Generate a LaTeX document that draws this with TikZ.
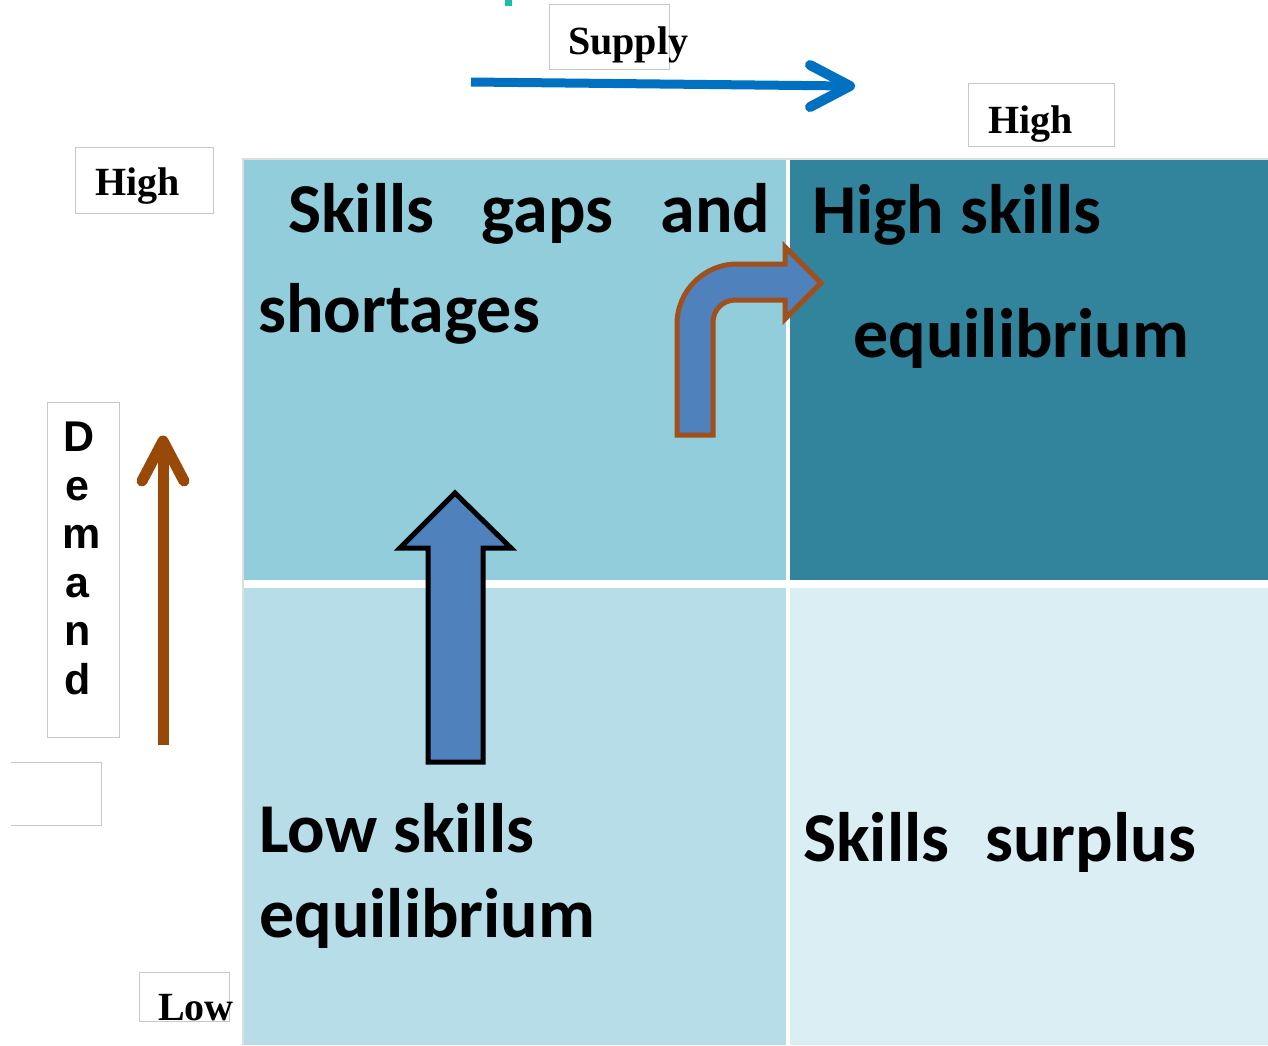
\documentclass[tikz,border=0pt]{standalone}
\usepackage{fontspec}
\usetikzlibrary{calc}
\newfontfamily\cellfont{Carlito}
\newfontfamily\axisfont{Liberation Serif}
\newfontfamily\demfont{Liberation Sans}
\definecolor{tl}{HTML}{92CDDC}
\definecolor{tr}{HTML}{31849B}
\definecolor{bl}{HTML}{B7DDE8}
\definecolor{br}{HTML}{DAEEF3}
\definecolor{arrowblue}{HTML}{4F81BD}
\definecolor{supplyblue}{HTML}{0070C0}
\definecolor{brownline}{HTML}{984807}
\definecolor{bentline}{HTML}{A0501A}
\definecolor{boxgray}{HTML}{C8C8C8}
\definecolor{tealmark}{HTML}{1ABCAA}
\tikzset{
  celltext/.style={anchor=base west, inner sep=0pt, font=\cellfont\bfseries\fontsize{70}{84}\selectfont, text=black},
  axisbox/.style={draw=boxgray, line width=1pt, fill=white},
  axistext/.style={anchor=base west, inner sep=0pt, font=\axisfont\bfseries\fontsize{40}{48}\selectfont},
  demtext/.style={anchor=base, inner sep=0pt, font=\demfont\bfseries\fontsize{43}{52}\selectfont},
  blockarrow/.style={fill=arrowblue, line width=5pt, line join=miter},
  linearrow/.style={line cap=round, line join=round},
}
\begin{document}
\begin{tikzpicture}[x=1pt,y=-1pt]
\useasboundingbox (0,0) rectangle (1268,1045);
% tiny teal mark
\fill[tealmark] (505,0) rectangle (512,6);
% grid cells
\fill[boxgray!60] (242,158) rectangle (1268,1045);
\fill[tl] (244,160) rectangle (786,580);
\fill[tr] (790,160) rectangle (1268,580);
\fill[bl] (244,588) rectangle (786,1045);
\fill[br] (790,588) rectangle (1268,1045);
\fill[white] (786,160) rectangle (790,1045);
\fill[white] (244,580) rectangle (1268,588);
% cell texts
\node[celltext] (tl1) at (288,232) {\makebox[482pt][s]{Skills\hfill gaps\hfill and}};
\node[celltext] (tl2) at (258,332) {shortages};
\node[celltext] (tr1) at (812,233) {High skills};
\node[celltext] (tr2) at (853,357) {equilibrium};
\node[celltext] (bl1) at (259,852) {Low skills};
\node[celltext] (bl2) at (259,937) {equilibrium};
\node[celltext] (br1) at (803,861) {Skills\hspace{20pt} surplus};
% axis label boxes
\draw[axisbox] (549,4) rectangle (669,69);
\node[axistext] (supply) at (568,54) {Supply};
\draw[axisbox] (968,83) rectangle (1114,146);
\node[axistext] (hightop) at (988,133) {High};
\draw[axisbox] (75,147) rectangle (213,213);
\node[axistext] (highleft) at (95,195) {High};
\draw[axisbox] (139,972) rectangle (229,1021);
\node[axistext] (low) at (158,1020) {Low};
\draw[boxgray, line width=1pt] (11,762) -- (101,762) -- (101,825) -- (11,825);
\draw[axisbox] (47,402) rectangle (119,737);
\node[demtext] (dD) at (79,451) {D};
\node[demtext] (de) at (77,500) {e};
\node[demtext] (dm) at (82,548) {m};
\node[demtext] (da) at (77,597) {a};
\node[demtext] (dn) at (78,645) {n};
\node[demtext] (dd) at (78,694) {d};
% supply arrow
\coordinate (s0) at (471,82);
\coordinate (s1) at (850,86);
\draw[supplyblue, line width=9pt] (s0) -- (s1);
\draw[supplyblue, line width=10pt, linearrow] ($(s1)+(-40,-21)$) -- (s1) -- ($(s1)+(-40,21)$);
% demand arrow
\coordinate (d0) at (163,745);
\coordinate (d1) at (163,441);
\draw[brownline, line width=11pt] (d0) -- (d1);
\draw[brownline, line width=11pt, linearrow] ($(d1)+(-21,40)$) -- (d1) -- ($(d1)+(21,40)$);
% up block arrow
\draw[blockarrow, draw=black] (428,762) -- (428,548) -- (400,548) -- (455,493) -- (511,548) -- (483,548) -- (483,762) -- cycle;
% bent block arrow
\draw[blockarrow, draw=bentline] (677,435) -- (677,324) .. controls (677,291) and (704,264) .. (737,264) -- (785,264) -- (785,247) -- (821,283) -- (785,319) -- (785,300) -- (735,300) .. controls (723,300) and (713,310) .. (713,322) -- (713,435) -- cycle;
\end{tikzpicture}
\end{document}
